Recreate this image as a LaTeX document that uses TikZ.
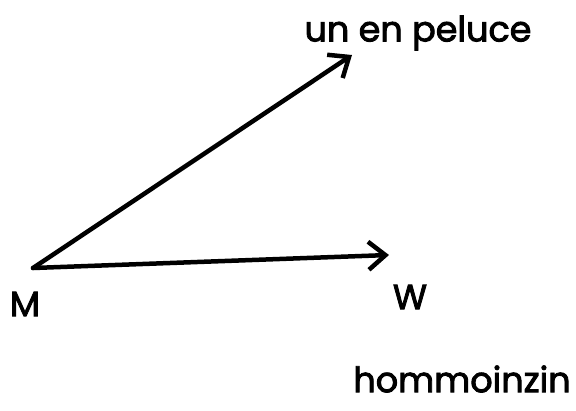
\documentclass[tikz,border=0pt]{standalone}
\usepackage{fontspec}
\newfontfamily\handfont{Poppins}[FakeBold=2.5]
\usetikzlibrary{positioning, arrows.meta}

\begin{document}
\begin{tikzpicture}[x=1pt, y=-1pt,
    vec/.style={-{Straight Barb[length=17pt, width=28pt, line width=4.5pt]}, line width=4.5pt, line cap=round},
    hand/.style={font=\handfont\fontsize{35}{38}\selectfont, inner sep=0pt}]
    \useasboundingbox (0,0) rectangle (576,410);
    \coordinate (origin) at (33,268);
    \coordinate (tipTop) at (352,55);
    \coordinate (tipW) at (389,255);
    \draw[vec] (origin) -- (tipTop);
    \draw[vec] (origin) -- (tipW);
    \node[hand] (labM) at (25,304) {M};
    \node[hand] (labW) at (410,297) {W};
    \node[hand] (labTop) at (418,33) {un en peluce};
    \node[hand] (labBottom) at (462,379) {hommoinzin};
\end{tikzpicture}
\end{document}
